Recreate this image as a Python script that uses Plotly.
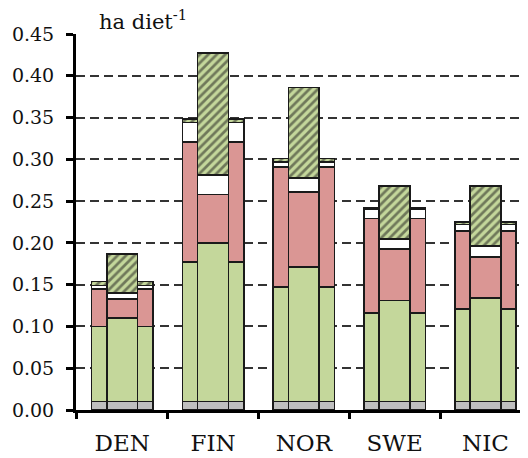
import plotly.graph_objects as go

countries = ["DEN", "FIN", "NOR", "SWE", "NIC"]

# side bars (left and right identical), values per layer (ha diet-1)
side_grey = [0.010, 0.010, 0.010, 0.010, 0.010]
side_green = [0.090, 0.167, 0.137, 0.106, 0.111]
side_pink = [0.045, 0.144, 0.144, 0.113, 0.093]
side_white = [0.004, 0.023, 0.006, 0.011, 0.008]
side_hatch = [0.005, 0.004, 0.004, 0.002, 0.003]

# centre bars
mid_grey = [0.010, 0.010, 0.010, 0.010, 0.010]
mid_green = [0.100, 0.190, 0.161, 0.121, 0.124]
mid_pink = [0.023, 0.058, 0.090, 0.062, 0.049]
mid_white = [0.007, 0.023, 0.017, 0.012, 0.013]
mid_hatch = [0.047, 0.146, 0.108, 0.063, 0.072]

y_ticks = [0.00, 0.05, 0.10, 0.15, 0.20, 0.25, 0.30, 0.35, 0.40, 0.45]

GREY = "#BFBFBF"
GREEN = "#C4D79B"
PINK = "#DA9694"
WHITE = "#FFFFFF"
OUT = dict(color="#1a1a1a", width=1.6)

SIDE_W = 0.168
MID_W = 0.34
OFF = 0.254
XRANGE = [-0.509, 4.469]

fig = go.Figure()
n = len(countries)

def add_layer(xs, vals, width, color, hatch=False):
    marker = dict(color=color, line=OUT)
    if hatch:
        marker["pattern"] = dict(shape="/", fgcolor="#1a1a1a", size=6,
                                 solidity=0.45, fillmode="overlay")
    fig.add_trace(go.Bar(x=xs, y=vals, width=[width] * n, marker=marker,
                         showlegend=False, hoverinfo="skip"))

for pos, w, layers in [
    (-OFF, SIDE_W, (side_grey, side_green, side_pink, side_white, side_hatch)),
    (0.0, MID_W, (mid_grey, mid_green, mid_pink, mid_white, mid_hatch)),
    (OFF, SIDE_W, (side_grey, side_green, side_pink, side_white, side_hatch)),
]:
    xs = [i + pos for i in range(n)]
    g, gr, p, wh, h = layers
    add_layer(xs, g, w, GREY)
    add_layer(xs, gr, w, GREEN)
    add_layer(xs, p, w, PINK)
    add_layer(xs, wh, w, WHITE)
    add_layer(xs, h, w, GREEN, hatch=True)

# empty helper trace so the tick-only overlay axis is drawn
fig.add_trace(go.Scatter(x=[None], y=[None], xaxis="x2", yaxis="y",
                         showlegend=False, hoverinfo="skip"))

FONT = "DejaVu Serif"

fig.update_layout(
    barmode="stack",
    width=520, height=450,
    margin=dict(l=68, r=0, t=26, b=47.5, autoexpand=False),
    plot_bgcolor="white", paper_bgcolor="white",
    font=dict(family=FONT, color="#111111"),
    xaxis=dict(
        range=XRANGE,
        tickvals=list(range(n)), ticktext=countries,
        ticks="", tickfont=dict(size=23, family=FONT),
        ticklabelstandoff=10,
        showline=True, linecolor="black", linewidth=3,
        showgrid=False, zeroline=False, automargin=False,
    ),
    xaxis2=dict(
        overlaying="x", anchor="y", side="bottom", range=XRANGE,
        tickvals=[i - 0.5 for i in range(n + 1)], ticks="outside",
        ticklen=8, tickwidth=3, tickcolor="black", showticklabels=False,
        showline=False, showgrid=False, zeroline=False, automargin=False,
    ),
    yaxis=dict(
        range=[0, 0.45], tickvals=y_ticks, tickformat=".2f",
        ticks="outside", ticklen=7, tickwidth=3, tickcolor="black",
        tickfont=dict(size=19, family=FONT),
        ticklabelstandoff=8, automargin=False,
        showline=True, linecolor="black", linewidth=3,
        showgrid=True, gridcolor="#333333", gridwidth=1.5, griddash="9px,5px",
        zeroline=False,
    ),
    annotations=[dict(
        text="ha diet<sup>-1</sup>", xref="paper", yref="paper",
        x=0.046, y=1.036, xanchor="left", yanchor="middle", showarrow=False,
        font=dict(size=21, family=FONT, color="#111111"),
    )],
)

fig.write_html("out.html")
